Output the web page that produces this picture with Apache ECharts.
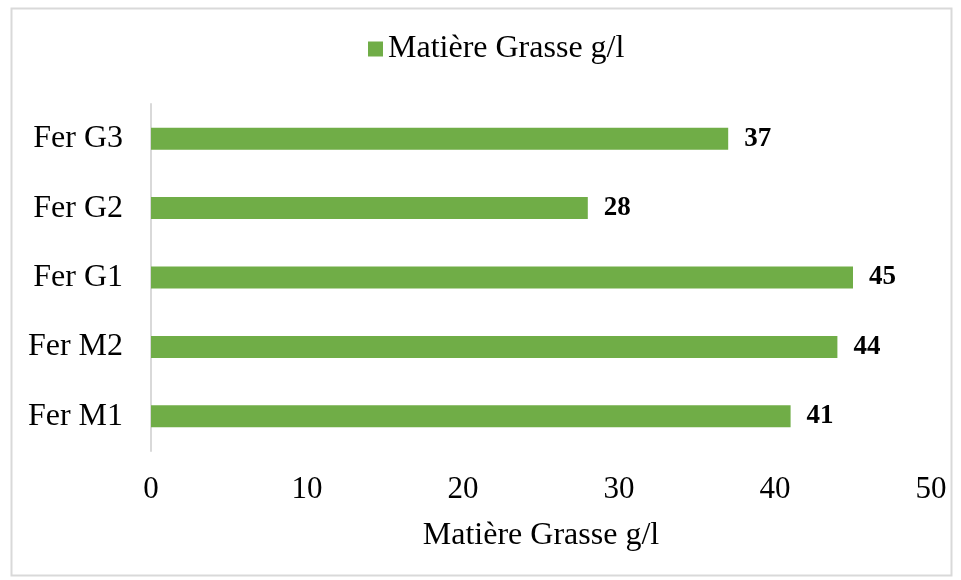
<!DOCTYPE html>
<html>
<head>
<meta charset="utf-8">
<script src="https://cdn.jsdelivr.net/npm/echarts@6/dist/echarts.min.js"></script>
<style>
  html, body { margin: 0; padding: 0; background: #fff; }
  #chart { width: 961px; height: 580px; }
</style>
</head>
<body>
<div id="chart"></div>
<script>
const categories = ['Fer M1', 'Fer M2', 'Fer G1', 'Fer G2', 'Fer G3'];
const values = [41, 44, 45, 28, 37];
const seriesName = 'Matière Grasse g/l';
const axisTitle = 'Matière Grasse g/l';

const font = '"Liberation Serif", "Times New Roman", serif';
const chart = echarts.init(document.getElementById('chart'));

chart.setOption({
  animation: false,
  textStyle: { fontFamily: font },
  graphic: [{
    type: 'rect',
    shape: { x: 11.5, y: 8.5, width: 940, height: 567 },
    style: { fill: 'none', stroke: '#d9d9d9', lineWidth: 2 },
    silent: true
  }],
  legend: {
    top: 33,
    left: 368,
    padding: 0,
    icon: 'rect',
    itemWidth: 15,
    itemHeight: 15,
    itemGap: 8,
    textStyle: { fontFamily: font, fontSize: 32, color: '#000' },
    data: [seriesName]
  },
  grid: { left: 151, right: 30, top: 104, bottom: 129 },
  xAxis: {
    type: 'value',
    min: 0,
    max: 50,
    interval: 10,
    name: axisTitle,
    nameLocation: 'middle',
    nameGap: 69,
    nameTextStyle: { fontFamily: font, fontSize: 32, color: '#000' },
    axisLine: { show: false },
    axisTick: { show: false },
    splitLine: { show: false },
    axisLabel: { fontFamily: font, fontSize: 31, color: '#000', margin: 23 }
  },
  yAxis: {
    type: 'category',
    data: categories,
    axisLine: { show: true, lineStyle: { color: '#d9d9d9', width: 2 } },
    axisTick: { show: false },
    axisLabel: { fontFamily: font, fontSize: 32, color: '#000', margin: 28 }
  },
  series: [{
    name: seriesName,
    type: 'bar',
    data: values,
    barWidth: 22,
    itemStyle: { color: '#70ad47' },
    label: {
      show: true,
      position: 'right',
      distance: 16,
      fontFamily: font,
      fontSize: 27,
      fontWeight: 'bold',
      color: '#000'
    }
  }]
});
</script>
</body>
</html>
